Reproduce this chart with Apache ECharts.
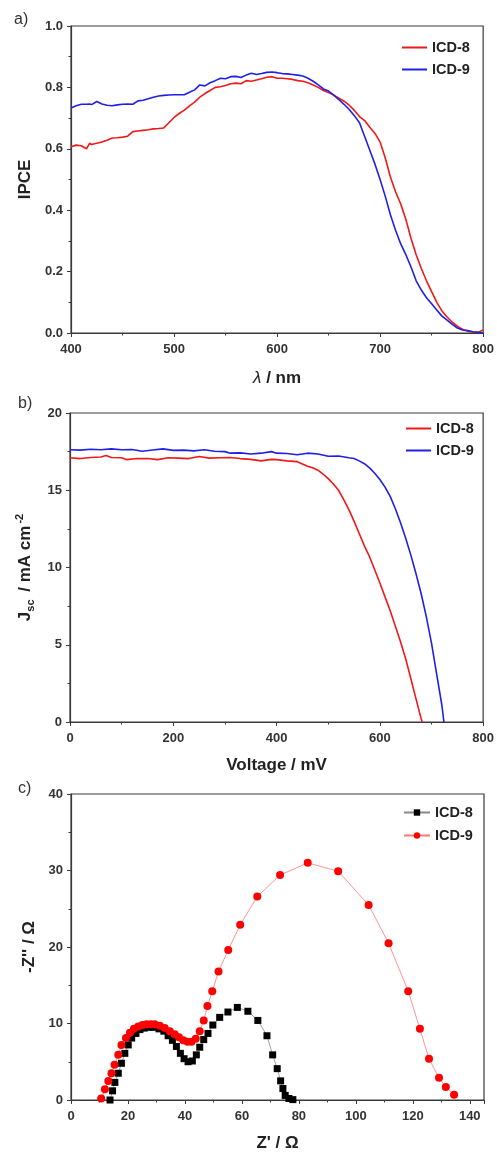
<!DOCTYPE html>
<html>
<head>
<meta charset="utf-8">
<script src="https://cdn.jsdelivr.net/npm/echarts@6/dist/echarts.min.js"></script>
<style>
  html, body { margin: 0; padding: 0; background: #fff; }
  #chart { width: 497px; height: 1153px; }
</style>
</head>
<body>
<div id="chart"></div>
<script>
// a) IPCE spectra
const wavelength = [400,405,410,415,418,420,425,430,435,440,445,450,455,460,465,470,475,480,485,490,495,500,505,510,515,520,525,530,535,540,545,550,555,560,565,570,575,580,585,590,595,600,605,610,615,620,625,630,635,640,645,650,655,660,665,670,675,680,685,690,695,700,705,710,715,720,725,730,735,740,745,750,755,760,765,770,775,780,785,790,795,800];
const ipce8 = [0.607,0.612,0.610,0.600,0.618,0.614,0.618,0.622,0.628,0.635,0.636,0.638,0.641,0.656,0.658,0.660,0.662,0.665,0.666,0.668,0.685,0.702,0.715,0.726,0.740,0.752,0.768,0.780,0.790,0.800,0.802,0.806,0.812,0.814,0.812,0.822,0.820,0.824,0.828,0.833,0.835,0.830,0.830,0.828,0.826,0.822,0.820,0.815,0.808,0.800,0.790,0.783,0.775,0.765,0.755,0.742,0.725,0.705,0.692,0.670,0.650,0.622,0.570,0.508,0.460,0.420,0.370,0.308,0.255,0.210,0.170,0.135,0.100,0.072,0.052,0.035,0.022,0.012,0.006,0.003,0.002,0.010];
const ipce9 = [0.733,0.740,0.745,0.745,0.746,0.744,0.754,0.746,0.742,0.740,0.743,0.745,0.746,0.745,0.756,0.758,0.763,0.768,0.772,0.774,0.775,0.776,0.776,0.776,0.784,0.792,0.808,0.805,0.815,0.822,0.830,0.828,0.835,0.836,0.832,0.840,0.846,0.842,0.845,0.849,0.850,0.848,0.845,0.844,0.842,0.840,0.837,0.830,0.820,0.808,0.795,0.788,0.775,0.760,0.745,0.728,0.708,0.685,0.640,0.595,0.550,0.500,0.445,0.385,0.335,0.290,0.255,0.215,0.170,0.140,0.115,0.095,0.075,0.055,0.042,0.028,0.016,0.010,0.008,0.004,0.002,0.000];

// b) J-V curves
const volt8 = [0,20,40,60,70,80,100,110,130,150,170,190,210,230,250,270,290,310,330,350,370,390,400,420,440,450,460,470,480,490,500,510,520,530,540,550,560,570,580,590,600,610,620,630,640,650,660,670,680,682];
const jsc8 = [17.10,17.05,17.12,17.15,17.25,17.12,17.10,16.98,17.05,17.05,16.98,17.10,17.08,17.05,17.18,17.08,17.10,17.12,17.05,17.00,16.90,17.00,16.98,16.90,16.85,16.70,16.55,16.45,16.30,16.05,15.75,15.40,15.00,14.40,13.75,13.00,12.20,11.40,10.70,9.85,9.00,8.10,7.20,6.20,5.20,4.10,2.80,1.50,0.20,0];
const volt9 = [0,20,40,60,80,100,120,140,160,180,200,220,240,260,280,300,310,330,350,370,390,400,420,440,460,480,500,520,540,550,560,570,580,590,600,610,620,630,640,650,660,670,680,690,700,710,720,724];
const jsc9 = [17.62,17.60,17.65,17.62,17.68,17.62,17.64,17.52,17.60,17.68,17.58,17.60,17.55,17.62,17.52,17.50,17.40,17.42,17.35,17.40,17.50,17.40,17.38,17.30,17.40,17.35,17.20,17.22,17.10,17.05,16.90,16.72,16.45,16.10,15.70,15.20,14.60,13.80,12.90,11.90,10.80,9.60,8.30,6.80,5.10,3.10,1.10,0];

// c) Nyquist plots
const zRe8 = [13.7,14.6,15.4,16.6,17.7,18.9,20.1,21.3,22.8,24.2,25.7,27.4,29.2,30.9,32.6,34.1,35.6,37.0,38.4,39.7,41.1,42.6,44.0,45.2,46.6,48.1,49.8,52.2,55.1,58.4,62.1,65.6,68.8,70.8,72.4,73.6,74.4,75.2,76.5,77.9];
const zIm8 = [0.0,1.2,2.3,3.5,4.8,6.1,7.2,8.1,8.7,9.2,9.4,9.5,9.5,9.3,9.0,8.4,7.8,7.0,6.1,5.4,5.0,5.1,5.9,6.9,7.9,8.7,9.8,10.8,11.5,12.1,11.6,10.4,8.4,5.9,4.1,2.5,1.5,0.6,0.2,0.05];
const zRe9 = [10.6,11.9,13.1,14.2,15.3,16.6,17.7,19.3,20.7,22.1,23.6,25.1,26.5,28.0,29.4,31.2,32.9,34.7,36.4,37.9,39.4,40.9,42.3,43.8,45.2,46.6,47.9,49.6,51.8,55.2,59.4,65.4,73.4,83.1,93.8,104.5,111.5,118.4,122.5,125.7,129.2,131.6,134.5];
const zIm9 = [0.2,1.4,2.5,3.5,4.6,5.9,7.2,8.1,8.8,9.3,9.6,9.8,9.9,9.9,9.9,9.7,9.4,9.0,8.6,8.2,7.8,7.6,7.6,8.0,9.0,10.4,12.3,14.2,16.8,19.6,22.9,26.6,29.4,31.0,29.9,25.5,20.5,14.2,9.3,5.4,2.9,1.7,0.7];

const pairs = (xs, ys) => xs.map((x, i) => [x, ys[i]]);

const FONT = '"Liberation Sans", Arial, sans-serif';
const AX = '#3a3a3a';
const RED = '#f01818';
const BLUE = '#1f1fe6';
const NAME_SIZE = 17;

function xAx(idx, min, max, interval, name, extra) {
    return Object.assign({
        type: 'value', gridIndex: idx, min: min, max: max, interval: interval,
        name: name, nameLocation: 'middle', nameGap: 36,
        nameTextStyle: { fontFamily: FONT, fontWeight: 'bold', fontSize: NAME_SIZE, color: '#222' },
        axisLine: { show: true, lineStyle: { color: AX, width: 1.2 } },
        axisTick: { show: true, inside: false, length: 4, lineStyle: { color: AX } },
        minorTick: { show: true, splitNumber: 2, length: 2.5, lineStyle: { color: AX } },
        axisLabel: { fontFamily: FONT, fontWeight: 'bold', fontSize: 13, color: '#333', margin: 10 },
        splitLine: { show: false }
    }, extra || {});
}
function yAx(idx, min, max, interval, name, extra) {
    return Object.assign({
        type: 'value', gridIndex: idx, min: min, max: max, interval: interval,
        name: name, nameLocation: 'middle', nameGap: 33, nameRotate: 90,
        nameTextStyle: { fontFamily: FONT, fontWeight: 'bold', fontSize: NAME_SIZE, color: '#222' },
        axisLine: { show: true, lineStyle: { color: AX, width: 1.2 } },
        axisTick: { show: true, inside: false, length: 4, lineStyle: { color: AX } },
        minorTick: { show: true, splitNumber: 2, length: 2.5, lineStyle: { color: AX } },
        axisLabel: { fontFamily: FONT, fontWeight: 'bold', fontSize: 13, color: '#333', margin: 8 },
        splitLine: { show: false }
    }, extra || {});
}

const legendText = { fontFamily: FONT, fontWeight: 'bold', fontSize: 14.5, color: '#222' };
const panelText = { fontFamily: FONT, fontSize: 16, fontWeight: 'normal', color: '#333' };

var chart = echarts.init(document.getElementById('chart'), null, { renderer: 'canvas' });
var option = {
    animation: false,
    backgroundColor: '#fff',
    title: [
        { text: 'a)', left: 14, top: 12, padding: 0, textStyle: panelText },
        { text: 'b)', left: 18, top: 396, padding: 0, textStyle: panelText },
        { text: 'c)', left: 18, top: 781, padding: 0, textStyle: panelText }
    ],
    grid: [
        { left: 71, top: 26, width: 415, height: 307, show: true, borderColor: AX, borderWidth: 1.2 },
        { left: 70, top: 413, width: 415, height: 309, show: true, borderColor: AX, borderWidth: 1.2 },
        { left: 71, top: 794, width: 413, height: 308, show: true, borderColor: AX, borderWidth: 1.2 }
    ],
    legend: [
        { data: ['ICD-8', 'ICD-9'], orient: 'vertical', left: 402, top: 40, padding: 0, itemWidth: 25, itemHeight: 2, itemGap: 7, textStyle: legendText, icon: 'rect' },
        { data: ['ICD-8', 'ICD-9'], orient: 'vertical', left: 406, top: 421, padding: 0, itemWidth: 25, itemHeight: 2, itemGap: 7, textStyle: legendText, icon: 'rect' },
        { data: ['ICD-8 ', 'ICD-9 '], orient: 'vertical', left: 403, top: 805, padding: 0, itemWidth: 26, itemHeight: 8, itemGap: 8, textStyle: legendText }
    ],
    xAxis: [
        xAx(0, 400, 800, 100, '{i|λ}{b| / nm}', {
            nameGap: 37,
            nameTextStyle: { rich: {
                i: { fontFamily: FONT, fontStyle: 'italic', fontSize: NAME_SIZE, color: '#222' },
                b: { fontFamily: FONT, fontWeight: 'bold', fontSize: NAME_SIZE, color: '#222' }
            } }
        }),
        xAx(1, 0, 800, 200, 'Voltage / mV', { nameGap: 35 }),
        xAx(2, 0, 145, 20, "Z' / Ω", {
            nameGap: 35,
            axisLabel: { fontFamily: FONT, fontWeight: 'bold', fontSize: 13, color: '#333', margin: 10, showMaxLabel: false }
        })
    ],
    yAxis: [
        yAx(0, 0, 1, 0.2, 'IPCE', { axisLabel: { fontFamily: FONT, fontWeight: 'bold', fontSize: 13, color: '#333', margin: 8, formatter: v => v.toFixed(1) } }),
        yAx(1, 0, 20, 5, '{a|J}{s|sc}{a| / mA cm}{p|-2}', {
            nameGap: 34,
            nameTextStyle: { rich: {
                a: { fontFamily: FONT, fontWeight: 'bold', fontSize: NAME_SIZE, color: '#222', lineHeight: 22, verticalAlign: 'middle' },
                s: { fontFamily: FONT, fontWeight: 'bold', fontSize: 11, color: '#222', lineHeight: 22, verticalAlign: 'bottom', padding: [7, 3, 0, 0] },
                p: { fontFamily: FONT, fontWeight: 'bold', fontSize: 11, color: '#222', lineHeight: 22, verticalAlign: 'top', padding: [0, 0, 9, 2] }
            } }
        }),
        yAx(2, 0, 40, 10, "-Z'' / Ω", { nameGap: 32 })
    ],
    series: [
        { name: 'ICD-8', type: 'line', xAxisIndex: 0, yAxisIndex: 0, data: pairs(wavelength, ipce8), showSymbol: false, symbol: 'none', lineStyle: { color: RED, width: 1.6 }, itemStyle: { color: RED } },
        { name: 'ICD-9', type: 'line', xAxisIndex: 0, yAxisIndex: 0, data: pairs(wavelength, ipce9), showSymbol: false, symbol: 'none', lineStyle: { color: BLUE, width: 1.6 }, itemStyle: { color: BLUE } },
        { name: 'ICD-8', type: 'line', xAxisIndex: 1, yAxisIndex: 1, data: pairs(volt8, jsc8), showSymbol: false, symbol: 'none', lineStyle: { color: RED, width: 1.6 }, itemStyle: { color: RED } },
        { name: 'ICD-9', type: 'line', xAxisIndex: 1, yAxisIndex: 1, data: pairs(volt9, jsc9), showSymbol: false, symbol: 'none', lineStyle: { color: BLUE, width: 1.6 }, itemStyle: { color: BLUE } },
        { name: 'ICD-8 ', type: 'line', xAxisIndex: 2, yAxisIndex: 2, data: pairs(zRe8, zIm8), symbol: 'rect', symbolSize: 7, lineStyle: { color: '#888', width: 0.8 }, itemStyle: { color: '#000' } },
        { name: 'ICD-9 ', type: 'line', xAxisIndex: 2, yAxisIndex: 2, data: pairs(zRe9, zIm9), symbol: 'circle', symbolSize: 8, lineStyle: { color: '#f77', width: 0.8 }, itemStyle: { color: '#f00' } }
    ]
};
chart.setOption(option);
</script>
</body>
</html>
